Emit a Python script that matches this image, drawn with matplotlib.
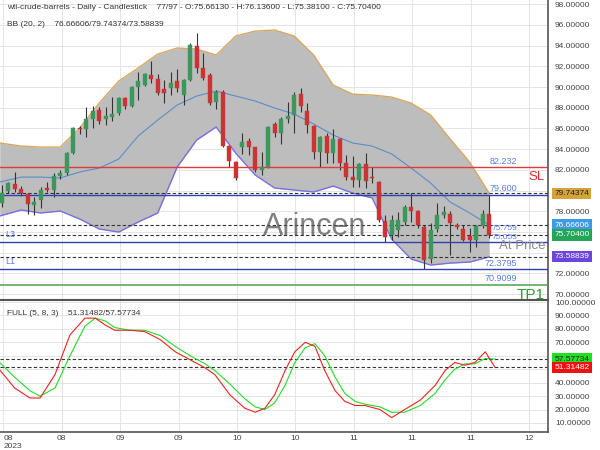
import matplotlib
matplotlib.use("Agg")
import matplotlib.pyplot as plt

plt.rcParams['font.family'] = ['Liberation Sans', 'DejaVu Sans']

# ---------------- data ----------------
opens = [78.8, 80.0, 80.6, 80.14, 79.66, 78.6, 79.08, 80.24, 80.05, 81.4,
         81.7, 83.6, 86.0, 85.9, 86.9, 87.8, 86.9, 87.1, 87.5, 88.9,
         88.2, 90.0, 90.2, 91.2, 90.8, 89.8, 89.9, 90.6, 89.2, 90.7,
         94.0, 91.8, 91.2, 88.6, 89.5, 84.3, 82.75, 84.2, 84.8, 84.2,
         82.0, 82.3, 86.4, 85.6, 86.9, 87.3, 89.3, 87.7, 86.2, 83.7,
         85.3, 83.6, 85.0, 82.7, 81.3, 81.0, 82.6, 81.3, 80.8, 77.1,
         75.7, 76.2, 77.0, 78.4, 78.0, 76.5, 73.4, 76.3, 77.6, 77.7,
         76.7, 76.3, 75.6, 75.2, 76.6, 77.7]
highs = [80.5, 80.8, 81.8, 80.4, 79.76, 79.4, 80.34, 80.8, 81.7, 82.0,
         83.7, 86.1, 86.2, 88.07, 88.2, 88.1, 88.07, 89.0, 89.0, 89.0,
         90.1, 91.5, 91.4, 92.5, 91.3, 90.7, 91.5, 91.7, 90.8, 94.3,
         95.2, 93.3, 91.4, 89.7, 89.7, 84.4, 82.9, 85.6, 85.1, 84.2,
         83.7, 86.2, 86.6, 87.1, 88.6, 89.5, 89.9, 88.5, 86.3, 85.3,
         85.6, 85.9, 85.1, 83.4, 83.3, 82.7, 83.6, 82.3, 80.9, 77.6,
         77.6, 77.9, 78.6, 79.76, 78.1, 76.7, 76.9, 78.8, 78.5, 78.0,
         76.9, 76.7, 76.4, 76.7, 78.1, 79.6]
lows = [78.4, 79.8, 79.85, 79.5, 77.7, 77.6, 78.3, 79.85, 79.4, 81.1,
        81.5, 83.5, 85.5, 85.2, 86.0, 86.4, 86.3, 86.7, 87.3, 87.9,
        88.1, 88.7, 90.1, 90.4, 89.2, 88.5, 89.2, 89.5, 88.3, 90.6,
        91.4, 90.7, 88.3, 87.9, 84.2, 82.3, 81.0, 83.5, 83.4, 81.8,
        81.5, 82.2, 85.2, 84.5, 86.5, 85.6, 87.6, 85.6, 83.0, 82.3,
        82.7, 82.7, 82.0, 81.0, 80.3, 80.3, 80.2, 80.7, 77.0, 75.0,
        75.2, 75.5, 76.7, 77.0, 76.4, 72.38, 73.0, 76.0, 77.3, 73.8,
        76.3, 75.1, 74.1, 74.5, 76.4, 75.4]
closes = [79.8, 80.7, 80.15, 79.76, 78.7, 78.9, 80.05, 80.05, 81.4, 81.7,
          83.6, 86.0, 85.9, 86.9, 87.7, 86.7, 87.2, 87.4, 88.9, 88.2,
          90.0, 90.6, 91.3, 90.8, 89.4, 89.4, 90.4, 89.9, 90.7, 94.1,
          91.8, 90.9, 88.5, 89.5, 84.3, 82.9, 81.2, 84.7, 84.2, 82.0,
          82.3, 86.1, 85.6, 86.9, 87.2, 89.2, 88.2, 86.3, 83.7, 85.2,
          83.6, 85.0, 82.7, 81.3, 81.0, 82.6, 80.9, 81.2, 77.15, 75.5,
          77.2, 77.2, 78.4, 78.0, 76.7, 73.3, 76.2, 77.6, 77.9, 76.9,
          76.5, 75.2, 75.2, 76.6, 77.7, 75.704]

bb_idx = [-0.3, 3, 6, 9, 12, 15, 18, 21, 24, 27, 30, 33, 36, 39, 42, 45,
          48, 51, 54, 57, 60, 63, 66, 69, 72, 75]
bb_upper = [84.59, 84.30, 84.20, 84.20, 86.04, 88.45, 90.58, 91.84, 93.19,
            93.77, 93.67, 93.09, 94.93, 95.41, 95.51, 94.93, 93.09, 90.19,
            89.32, 89.23, 89.03, 88.45, 87.29, 84.98, 82.75, 79.74374]
bb_mid = [80.82, 81.30, 81.30, 81.21, 81.79, 82.17, 83.04, 85.27, 86.81,
          88.26, 89.13, 89.61, 89.13, 88.65, 87.97, 87.39, 86.43, 85.36,
          84.59, 84.30, 83.53, 82.17, 80.72, 78.89, 77.83, 76.66606]
bb_lower = [77.54, 78.12, 77.83, 78.02, 77.25, 76.28, 75.99, 76.96, 77.83,
            82.27, 84.88, 86.14, 83.62, 81.50, 80.24, 80.05, 79.86, 80.43,
            79.76, 79.28, 75.31, 73.38, 72.80, 72.99, 73.09, 73.58839]

stoch_idx = [-0.3, 2.0, 4.35, 5.9, 8.2, 10.5, 12.8, 14.4, 15.9, 17.4, 19.7,
             22.0, 24.4, 26.7, 29.0, 31.3, 32.8, 35.1, 37.4, 39.0, 40.5,
             42.0, 43.6, 45.1, 46.7, 48.2, 49.7, 51.3, 52.8, 54.4, 55.9,
             58.2, 60.0, 62.0, 64.4, 66.7, 68.2, 69.7, 71.3, 72.8, 74.4, 75.9]
stoch_k = [49.5, 36, 28.6, 28.6, 46, 75.5, 88, 88, 83, 79, 79,
           78, 72, 63, 57, 51, 46, 31, 21, 18, 21,
           31, 49, 63, 70, 67, 49, 34, 26, 23, 23,
           20, 14, 20, 27, 38, 49, 55, 53, 55, 63, 51.31482]
stoch_d = [55, 44, 34, 30, 36, 60, 82, 88, 86, 81, 79,
           79, 75, 67, 60, 54, 49, 39, 28, 22, 20,
           25, 38, 55, 66, 69, 60, 44, 32, 26, 24,
           22, 18, 18, 23, 32, 42, 50, 54, 54, 58, 57.57734]

xtick_labels = ["08\n2023", "08", "09", "09", "10", "10", "11", "11", "11", "12"]

sl_level = 82.232
level_79 = 79.600
level_l3 = 75.053
level_l3b = 75.759
level_l1 = 72.3795
tp1_level = 70.9099
close_last = 75.704

# ---------------- figure ----------------
fig = plt.figure(figsize=(6, 4.5), dpi=100)
ax = fig.add_axes([0, 1 - 299 / 450, 548 / 600, 299 / 450])
ax2 = fig.add_axes([0, 1 - 432 / 450, 548 / 600, 132 / 450])

xmin, xmax = -0.26, 84.05
tick_pos = [0.25 + 8.985 * k for k in range(len(xtick_labels))]
axis_col = "#555555"
lab_col = "#444444"

for a in (ax, ax2):
    a.set_xlim(xmin, xmax)
    a.yaxis.tick_right()
    a.tick_params(axis='y', length=0, pad=5, labelsize=6, labelcolor=lab_col)
    a.tick_params(axis='x', length=0)
    a.set_xticks(tick_pos)
    a.grid(True, color="#e4e4e4", linewidth=0.7)
    a.set_axisbelow(True)
    for s in ("left", "top", "bottom"):
        a.spines[s].set_visible(False)
    a.spines["right"].set_color(axis_col)
    a.spines["right"].set_linewidth(1.2)

# main panel
hidden_main = (74, 76, 80)
ax.set_ylim(69.52, 98.41)
ax.set_yticks([70 + 2 * k for k in range(15)])
ax.set_yticklabels(["" if (70 + 2 * k) in hidden_main else f"{70 + 2 * k:.5f}"
                    for k in range(15)])
ax.set_xticklabels([])

ax.fill_between(bb_idx, bb_lower, bb_upper, color="#bdbdbd", zorder=1, linewidth=0)
ax.plot(bb_idx, bb_upper, color="#d9a860", lw=1.0, zorder=2)
ax.plot(bb_idx, bb_lower, color="#7a6fe0", lw=1.0, zorder=2)
ax.plot(bb_idx, bb_mid, color="#5b8ccc", lw=0.8, zorder=2)

idx = list(range(len(opens)))
up_col, dn_col = "#3b975c", "#cc3333"
cols = [up_col if c >= o else dn_col for o, c in zip(opens, closes)]
ax.vlines(idx, lows, highs, color="#333333", lw=0.8, zorder=3)
bottoms = [min(o, c) for o, c in zip(opens, closes)]
heights = [max(abs(c - o), 0.08) for o, c in zip(opens, closes)]
ax.bar(idx, heights, bottom=bottoms, width=0.62, color=cols, edgecolor=cols,
       linewidth=0.3, zorder=4)

# levels
ax.axhline(sl_level, color="#e03a3a", lw=1.0, zorder=3)
for lv in (level_79, level_l3, level_l1):
    ax.axhline(lv, color="#3040b0", lw=1.0, zorder=3)
ax.axhline(tp1_level, color="#5aaa5a", lw=1.2, zorder=3)
for lv in (bb_upper[-1], bb_mid[-1], close_last, bb_lower[-1]):
    ax.axhline(lv, color="#333333", lw=0.8, ls=(0, (3, 2)), zorder=3)

lvl_x = 79.3
lvl_col = "#5a7de0"
for lv, txt, dy, fs in ((sl_level, "82.232", 0.15, 6.5), (level_79, "79.600", 0.15, 6.5),
                        (level_l3b, "75.759", 0.22, 6), (level_l3, "75.053", 0.08, 6),
                        (level_l1, "72.3795", 0.15, 6.5), (tp1_level, "70.9099", 0.15, 6.5)):
    ax.text(lvl_x, lv + dy, txt, color=lvl_col, fontsize=fs, ha="right",
            va="bottom", zorder=6)
ax.text(0.5, level_l3 + 0.3, "L3", color=lvl_col, fontsize=6.5, ha="left", va="bottom", zorder=6)
ax.text(0.5, level_l1 + 0.3, "L1", color=lvl_col, fontsize=6.5, ha="left", va="bottom", zorder=6)
ax.text(83.6, sl_level - 0.35, "SL", color="#e02a2a", fontsize=9.5, ha="right", va="top", zorder=6)
ax.text(83.6, tp1_level - 0.35, "TP1", color="#2e9e2e", fontsize=11, ha="right", va="top", zorder=6)
ax.text(83.6, 74.6, "At Price", color="#8a8a8a", fontsize=9.5, ha="right", va="center", zorder=6)
ax.text(48.2, 76.5, "Arincen", color="#555555", alpha=0.75, fontsize=22, ha="center",
        va="center", zorder=6)

ax.text(0.012, 0.975, "wti-crude-barrels - Daily - Candlestick    77/97 - O:75.66130 - H:76.13600 - L:75.38100 - C:75.70400",
        transform=ax.transAxes, fontsize=6, color="#333333", va="center", ha="left", zorder=7)
ax.text(0.012, 0.918, "BB (20, 2)    76.66606/79.74374/73.58839",
        transform=ax.transAxes, fontsize=6, color="#333333", va="center", ha="left", zorder=7)

def tag(a, y, txt, bg, fg):
    a.text(1.012, y, txt, transform=a.get_yaxis_transform(), fontsize=6, color=fg,
           ha="left", va="center", zorder=8, clip_on=False,
           bbox=dict(boxstyle="square,pad=0.25", facecolor=bg, edgecolor="none"))

tag(ax, bb_upper[-1], f"{bb_upper[-1]:.5f}", "#d6a23a", "#222222")
tag(ax, bb_mid[-1], f"{bb_mid[-1]:.5f}", "#3c9be8", "white")
tag(ax, close_last, f"{close_last:.5f}", "#22a559", "white")
tag(ax, bb_lower[-1], f"{bb_lower[-1]:.5f}", "#6a45e0", "white")

# stochastic panel
hidden_low = (50, 60)
ax2.set_ylim(3.3, 101.5)
ax2.set_yticks([10 * k for k in range(1, 11)])
ax2.set_yticklabels(["" if 10 * k in hidden_low else f"{10 * k:.5f}" for k in range(1, 11)])
ax2.spines["top"].set_visible(True)
ax2.spines["top"].set_color(axis_col)
ax2.spines["top"].set_linewidth(1.5)
ax2.spines["bottom"].set_visible(True)
ax2.spines["bottom"].set_color(axis_col)
ax2.spines["bottom"].set_linewidth(1.2)
ax2.set_xticklabels(xtick_labels)
ax2.tick_params(axis='x', labelsize=6, labelcolor=lab_col, pad=2)
ax2.get_xticklabels()[0].set_horizontalalignment("left")

ax2.plot(stoch_idx, stoch_d, color="#22dd22", lw=0.8, zorder=3)
ax2.plot(stoch_idx, stoch_k, color="#ee2222", lw=0.8, zorder=4)
ax2.axhline(stoch_d[-1], color="#333333", lw=0.8, ls=(0, (3, 2)), zorder=2)
ax2.axhline(stoch_k[-1], color="#333333", lw=0.8, ls=(0, (3, 2)), zorder=2)
ax2.text(0.012, 0.9, "FULL (5, 8, 3)    51.31482/57.57734", transform=ax2.transAxes,
         fontsize=6, color="#333333", va="center", ha="left", zorder=7)
tag(ax2, stoch_d[-1], f"{stoch_d[-1]:.5f}", "#22dd22", "#222222")
tag(ax2, stoch_k[-1], f"{stoch_k[-1]:.5f}", "#ee1111", "white")

fig.savefig("out.png", dpi=100)
